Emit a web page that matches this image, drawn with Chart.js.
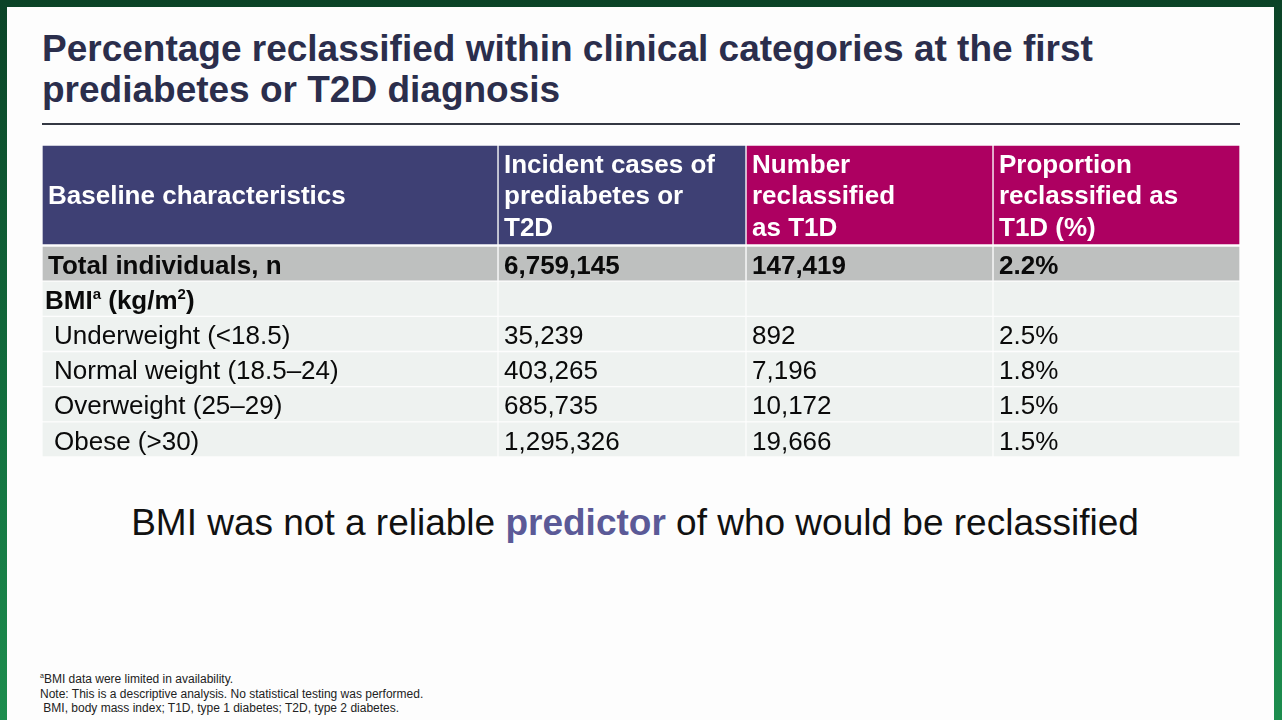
<!DOCTYPE html>
<html>
<head>
<meta charset="utf-8">
<script src="https://cdn.jsdelivr.net/npm/chart.js@4.4.1/dist/chart.umd.min.js"></script>
<style>
  html, body { margin: 0; padding: 0; }
  body {
    width: 1282px; height: 720px; overflow: hidden; position: relative;
    background: linear-gradient(to bottom, #0b4327 0%, #137240 60%, #1d8d4e 100%);
    font-family: "Liberation Sans", Arial, sans-serif;
  }
  #slide { position: absolute; left: 7px; top: 7px; width: 1267px; height: 713px; background: #fdfdfd; }
  #title {
    position: absolute; left: 42px; top: 28px; margin: 0;
    font-size: 37px; font-weight: bold; line-height: 41px; color: #2b2e4c;
  }
  #rule { position: absolute; left: 42px; top: 123px; width: 1198px; height: 2px; background: #343843; }
  .chart { position: absolute; left: 42px; }
  #headerChart { top: 145px; }
  #bodyChart { top: 246px; }
  #message {
    position: absolute; left: 0; width: 1270px; top: 502px; text-align: center;
    font-size: 37px; color: #111;
  }
  #message b { color: #5b5a97; }
  #notes { position: absolute; left: 40px; top: 669px; font-size: 12px; line-height: 14.5px; color: #222; }
</style>
</head>
<body>
<div id="slide"></div>
<h1 id="title">Percentage reclassified within clinical categories at the first<br>prediabetes or T2D diagnosis</h1>
<div id="rule"></div>
<canvas id="headerChart" class="chart" width="1198" height="100"></canvas>
<canvas id="bodyChart" class="chart" width="1198" height="211"></canvas>
<div id="message">BMI was not a reliable <b>predictor</b> of who would be reclassified</div>
<div id="notes">
  <div><sup style="font-size:7px">a</sup>BMI data were limited in availability.</div>
  <div>Note: This is a descriptive analysis. No statistical testing was performed.</div>
  <div>&nbsp;BMI, body mass index; T1D, type 1 diabetes; T2D, type 2 diabetes.</div>
</div>
<script>
// table contents
const columnHeaders = [
    ['Baseline characteristics'],
    ['Incident cases of', 'prediabetes or', 'T2D'],
    ['Number', 'reclassified', 'as T1D'],
    ['Proportion', 'reclassified as', 'T1D (%)']
];
const rowLabels = ['Total individuals, n', 'BMI (kg/m2)', 'Underweight (<18.5)', 'Normal weight (18.5–24)', 'Overweight (25–29)', 'Obese (>30)'];
const incidentCases = [6759145, null, 35239, 403265, 685735, 1295326];
const reclassifiedT1D = [147419, null, 892, 7196, 10172, 19666];
const proportionT1D = [2.2, null, 2.5, 1.8, 1.5, 1.5];

// layout
const colWidths = [456, 248, 247, 247];
const colEdges = colWidths.reduce((acc, w) => acc.concat(acc[acc.length - 1] + w), [0]);
const tableWidth = colEdges[colEdges.length - 1];
const headerColors = ['#3e4074', '#3e4074', '#ad0061', '#ad0061'];
const FONT = '"Liberation Sans", Arial, sans-serif';

const fmtCount = v => v == null ? '' : v.toLocaleString('en-US');
const fmtPct = v => v == null ? '' : v.toFixed(1) + '%';

const bodyColumns = [
    rowLabels,
    incidentCases.map(fmtCount),
    reclassifiedT1D.map(fmtCount),
    proportionT1D.map(fmtPct)
];

function span(i) {
    return [colEdges[i], colEdges[i + 1]];
}

function drawRich(ctx, parts, x, y) {
    parts.forEach(p => {
        ctx.font = p.font;
        ctx.fillText(p.text, x, y + (p.rise || 0));
        x += ctx.measureText(p.text).width;
    });
}

const headerText = {
    id: 'headerText',
    afterDatasetsDraw(chart) {
        const ctx = chart.ctx;
        ctx.save();
        ctx.fillStyle = '#ffffff';
        ctx.textBaseline = 'middle';
        ctx.font = 'bold 26px ' + FONT;
        chart.data.datasets.forEach((ds, di) => {
            const bar = chart.getDatasetMeta(di).data[0];
            const { base, y } = bar.getProps(['base', 'y'], true);
            const lines = columnHeaders[di];
            lines.forEach((line, li) => {
                ctx.fillText(line, base + 6, y + 2 + (li - (lines.length - 1) / 2) * 31.5);
            });
        });
        ctx.restore();
    }
};

const bodyText = {
    id: 'bodyText',
    afterDatasetsDraw(chart) {
        const ctx = chart.ctx;
        ctx.save();
        ctx.fillStyle = '#0a0a0a';
        ctx.textBaseline = 'middle';
        chart.data.datasets.forEach((ds, di) => {
            chart.getDatasetMeta(di).data.forEach((bar, ri) => {
                const { base, y } = bar.getProps(['base', 'y'], true);
                const text = bodyColumns[di][ri];
                const ty = y + 3;
                if (di === 0 && ri === 1) {
                    const b = 'bold 26px ' + FONT, s = 'bold 15px ' + FONT;
                    drawRich(ctx, [
                        { text: 'BMI', font: b },
                        { text: 'a', font: s, rise: -7 },
                        { text: ' (kg/m', font: b },
                        { text: '2', font: s, rise: -7 },
                        { text: ')', font: b }
                    ], base + 3, ty);
                    return;
                }
                ctx.font = (ri === 0 ? 'bold ' : '') + '26px ' + FONT;
                const indent = di === 0 && ri > 1 ? 12 : 6;
                ctx.fillText(text, base + indent, ty);
            });
        });
        ctx.restore();
    }
};

const sharedOptions = {
    indexAxis: 'y',
    responsive: false,
    animation: false,
    layout: { padding: 0 },
    plugins: { legend: { display: false }, tooltip: { enabled: false } },
    scales: {
        x: { type: 'linear', min: 0, max: tableWidth, display: false },
        y: { type: 'category', display: false }
    }
};

new Chart(document.getElementById('headerChart'), {
    type: 'bar',
    data: {
        labels: ['header'],
        datasets: columnHeaders.map((h, i) => ({
            data: [span(i)],
            backgroundColor: headerColors[i],
            borderColor: '#fdfdfd',
            borderWidth: 1,
            borderSkipped: false,
            grouped: false,
            barPercentage: 1,
            categoryPercentage: 1
        }))
    },
    options: sharedOptions,
    plugins: [headerText]
});

new Chart(document.getElementById('bodyChart'), {
    type: 'bar',
    data: {
        labels: rowLabels,
        datasets: bodyColumns.map((col, i) => ({
            data: rowLabels.map(() => span(i)),
            backgroundColor: rowLabels.map((r, ri) => ri === 0 ? '#bec0bf' : '#eef2f0'),
            borderColor: '#fdfdfd',
            borderWidth: 1,
            borderSkipped: false,
            grouped: false,
            barPercentage: 1,
            categoryPercentage: 1
        }))
    },
    options: sharedOptions,
    plugins: [bodyText]
});
</script>
</body>
</html>
